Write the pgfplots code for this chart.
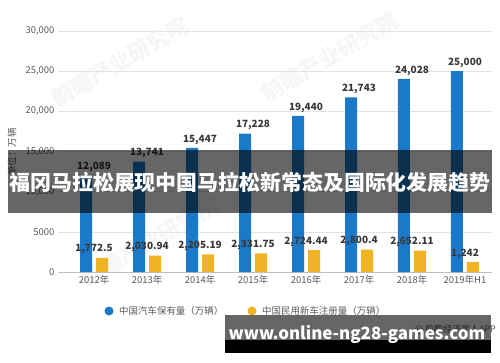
\documentclass[border=0pt]{standalone}
\usepackage{fontspec}
\setmainfont{Noto Sans CJK SC}
\usepackage{pgfplots}
\pgfplotsset{compat=1.18}
\definecolor{cblue}{HTML}{1A7AC9}
\definecolor{corange}{HTML}{F0B323}
\definecolor{ctick}{HTML}{5A5A5A}
\begin{document}
\begin{tikzpicture}[x=1bp,y=1bp]
\useasboundingbox (0,0) rectangle (500,362);
% faint watermarks
\node[rotate=30, text=gray!7, font=\bfseries\fontsize{22}{22}\selectfont] at (120,300) {前瞻产业研究院};
\node[rotate=30, text=gray!7, font=\bfseries\fontsize{22}{22}\selectfont] at (330,305) {前瞻产业研究院};
\node[rotate=30, text=gray!7, font=\bfseries\fontsize{22}{22}\selectfont] at (150,120) {前瞻产业研究院};
\begin{axis}[
  at={(58bp,90bp)}, anchor=south west,
  scale only axis, width=434bp, height=241bp,
  xmin=-0.68, xmax=7.51, ymin=0, ymax=30000,
  axis x line*=bottom, axis y line*=left,
  y axis line style={draw=none},
  x axis line style={draw=gray!50},
  scaled y ticks=false,
  ytick={0,5000,10000,15000,20000,25000,30000},
  yticklabels={0,5000,{10,000},{15,000},{20,000},{25,000},{30,000}},
  xtick={0,1,2,3,4,5,6,7},
  xticklabels={2012年,2013年,2014年,2015年,2016年,2017年,2018年,2019年H1},
  ymajorgrids, grid style={gray!22},
  major tick length=0,
  tick label style={font=\fontsize{9.5}{10}\selectfont, text=ctick},
  /pgf/number format/assume math mode=true,
  nodes near coords, point meta=explicit symbolic,
  every node near coord/.append style={font=\bfseries\fontsize{10}{10}\selectfont, text=black!78},
  clip=false,
]
\addplot[ybar, bar width=12bp, bar shift=-8bp, fill=cblue, draw=none] coordinates {
  (0,12089)[12,089] (1,13741)[13,741] (2,15447)[15,447] (3,17228)[17,228]
  (4,19440)[19,440] (5,21743)[21,743] (6,24028)[24,028] (7,25000)[25,000]
};
\addplot[ybar, bar width=12bp, bar shift=8bp, fill=corange, draw=none] coordinates {
  (0,1772.5)[1,772.5] (1,2030.94)[2,030.94] (2,2205.19)[2,205.19] (3,2331.75)[2,331.75]
  (4,2724.44)[2,724.44] (5,2800.4)[2,800.4] (6,2652.11)[2,652.11] (7,1242)[1,242]
};
\end{axis}
% y label
\node[rotate=90, text=ctick, font=\fontsize{9.5}{10}\selectfont] at (12,210) {单位：万辆};
% legend
\fill[cblue] (109,51) circle (4.5);
\node[anchor=west, text=ctick, font=\fontsize{9.5}{10}\selectfont, inner sep=0] at (119,51) {中国汽车保有量（万辆）};
\fill[corange] (252,51) circle (4.5);
\node[anchor=west, text=ctick, font=\fontsize{9.5}{10}\selectfont, inner sep=0] at (262,51) {中国民用新车注册量（万辆）};
% source
\node[anchor=east, text=ctick, font=\fontsize{9}{10}\selectfont, inner sep=0] at (496,33) {@ 前瞻经济学人APP};
% title band
\fill[black, opacity=0.6] (8,149) rectangle (492,212);
\node[text=white, font=\bfseries\fontsize{21}{21}\selectfont, inner sep=0] at (250,180) {福冈马拉松展现中国马拉松新常态及国际化发展趋势};
% bottom band
\fill[black, opacity=0.6] (225,22) rectangle (491,47);
\fill[black] (225,9) rectangle (491,22);
\node[text=white, font=\bfseries\fontsize{17}{17}\selectfont, inner sep=0] at (357,28) {www.online-ng28-games.com};
\end{tikzpicture}
\end{document}
